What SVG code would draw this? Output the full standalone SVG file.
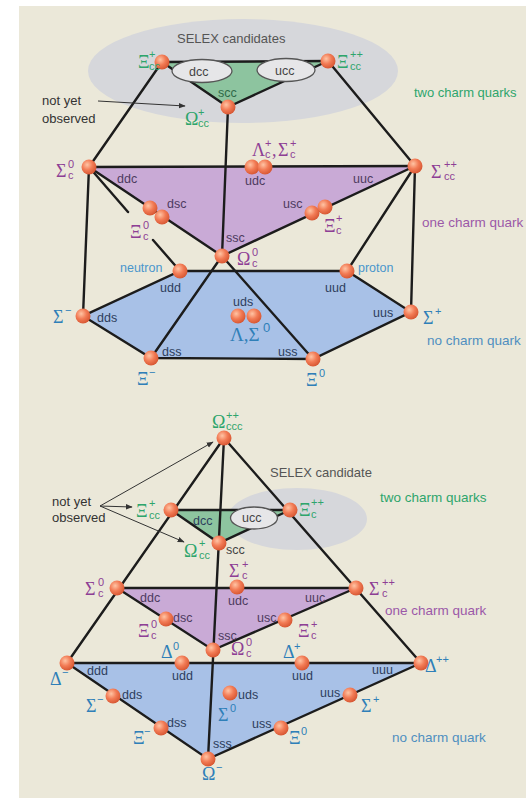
<svg xmlns="http://www.w3.org/2000/svg" width="526" height="799" viewBox="0 0 526 799">
<defs>
<radialGradient id="ball" cx="0.38" cy="0.35" r="0.7">
<stop offset="0" stop-color="#ffc4a4"/>
<stop offset="0.5" stop-color="#f27b55"/>
<stop offset="1" stop-color="#d4532f"/>
</radialGradient>
<marker id="ah" viewBox="0 0 10 10" refX="9" refY="5" markerWidth="7" markerHeight="7" orient="auto" markerUnits="userSpaceOnUse">
<path d="M0,1 L10,5 L0,9 z" fill="#333"/>
</marker>
<style>
.ln{stroke:#1c1c1c;stroke-width:2.4;fill:none;stroke-linecap:round}
.ar{stroke:#333;stroke-width:1;fill:none;marker-end:url(#ah)}
.nd{fill:url(#ball)}
.gk{font-family:"Liberation Serif","DejaVu Serif",serif;font-size:18px}
.ss{font-family:"Liberation Sans",Arial,sans-serif;font-size:11px}
.q{font-family:"Liberation Sans",Arial,sans-serif;font-size:12.5px}
.cap{font-family:"Liberation Sans",Arial,sans-serif;font-size:13.5px}
.g{fill:#2ea56c}
.p{fill:#8e3f95}
.b{fill:#2f7fb8}
.qg{fill:#2f6a48}
.qk{fill:#444}
.qp{fill:#4d3b60}
.qb{fill:#2d3e5c}
.lb{fill:#4a96cc}
.el{fill:#e6e6e8;stroke:#555;stroke-width:1.3}
</style>
</defs>
<rect x="19" y="6" width="507" height="792" fill="#ebe8d9"/>

<!-- TOP DIAGRAM background shapes -->
<g id="top-shapes">
<ellipse cx="243" cy="71" rx="155" ry="52" fill="#d6d7db"/>
<polygon points="162,62 328,61 228,107" fill="#8dc49f"/>
<polygon points="89,167 415,166 222,256" fill="#c9aad6"/>
<polygon points="180,271 347,271 411,312 313,359 151,358 83,316" fill="#a8c1e7"/>
</g>

<g id="connectors">
<line class="ln" x1="162" y1="62" x2="328" y2="61"/>
<line class="ln" x1="162" y1="62" x2="228" y2="107"/>
<line class="ln" x1="328" y1="61" x2="228" y2="107"/>
<line class="ln" x1="162" y1="62" x2="89" y2="167"/>
<line class="ln" x1="328" y1="61" x2="415" y2="166"/>
<line class="ln" x1="228" y1="107" x2="222" y2="256"/>
<line class="ln" x1="89" y1="167" x2="415" y2="166"/>
<line class="ln" x1="89" y1="167" x2="222" y2="256"/>
<line class="ln" x1="415" y1="166" x2="222" y2="256"/>
<line class="ln" x1="89" y1="167" x2="128" y2="212"/>
<line class="ln" x1="153" y1="240" x2="180" y2="271"/>
<line class="ln" x1="415" y1="166" x2="347" y2="271"/>
<line class="ln" x1="89" y1="167" x2="83" y2="316"/>
<line class="ln" x1="415" y1="166" x2="411" y2="312"/>
<polygon class="ln" points="180,271 347,271 411,312 313,359 151,358 83,316"/>
<line class="ln" x1="222" y1="256" x2="151" y2="358"/>
<line class="ln" x1="222" y1="256" x2="313" y2="359"/>
<line class="ar" x1="98" y1="101" x2="185" y2="106"/>
</g>

<g id="top-ellipses">
<ellipse class="el" cx="202" cy="71" rx="30" ry="11.5"/>
<ellipse class="el" cx="286" cy="70" rx="29" ry="11.5"/>
</g>

<g id="top-texts">
<text class="cap" x="177" y="43" fill="#555" style="font-size:13px">SELEX candidates</text>
<text class="cap g" x="414" y="97" style="font-size:13px">two charm quarks</text>
<text class="cap" x="422" y="227" fill="#9b59a8">one charm quark</text>
<text class="cap" x="427" y="345" fill="#4f8fc0">no charm quark</text>
<text class="cap" x="42" y="105" fill="#333" style="font-size:13px">not yet</text>
<text class="cap" x="42" y="123" fill="#333" style="font-size:13px">observed</text>
</g>

<g id="Xicc_plus_top"><circle class="nd" cx="162" cy="62" r="7.5"/><text class="gk g" x="138" y="68">Ξ</text><text class="ss g" x="149" y="58">+</text><text class="ss g" x="149" y="70">cc</text><text class="q qk" x="189" y="76">dcc</text></g>
<g id="Xicc_pp_top"><circle class="nd" cx="328" cy="61" r="7.5"/><text class="gk g" x="337" y="68">Ξ</text><text class="ss g" x="350" y="58">++</text><text class="ss g" x="350" y="70">cc</text><text class="q qk" x="275" y="75">ucc</text></g>
<g id="Omegacc_top"><circle class="nd" cx="228" cy="107" r="7.5"/><text class="gk g" x="185" y="125">Ω</text><text class="ss g" x="198" y="116">+</text><text class="ss g" x="198" y="127">cc</text><text class="q qg" x="218" y="97">scc</text></g>
<g id="Sigmac0_top"><circle class="nd" cx="89" cy="167" r="7.5"/><text class="gk p" x="56" y="177">Σ</text><text class="ss p" x="68" y="168">0</text><text class="ss p" x="68" y="179">c</text><text class="q qp" x="117" y="183">ddc</text></g>
<g id="LambdaSigmac_top"><circle class="nd" cx="252" cy="167" r="7.5"/><circle class="nd" cx="265" cy="167" r="7.5"/><text class="gk p" x="252" y="156">Λ</text><text class="ss p" x="265" y="147">+</text><text class="ss p" x="265" y="158">c</text><text class="gk p" x="272" y="156">,</text><text class="gk p" x="278" y="156">Σ</text><text class="ss p" x="290" y="147">+</text><text class="ss p" x="290" y="158">c</text><text class="q qp" x="245" y="185">udc</text></g>
<g id="Sigmacc_top"><circle class="nd" cx="415" cy="166" r="7.5"/><text class="gk p" x="431" y="178">Σ</text><text class="ss p" x="444" y="168">++</text><text class="ss p" x="444" y="180">cc</text><text class="q qp" x="353" y="183">uuc</text></g>
<g id="Xic0_top"><circle class="nd" cx="150" cy="208" r="7.5"/><circle class="nd" cx="162" cy="217" r="7.5"/><text class="gk p" x="130" y="238">Ξ</text><text class="ss p" x="143" y="229">0</text><text class="ss p" x="143" y="240">c</text><text class="q qp" x="167" y="208">dsc</text></g>
<g id="Xicp_top"><circle class="nd" cx="312" cy="213" r="7.5"/><circle class="nd" cx="325" cy="207" r="7.5"/><text class="gk p" x="324" y="232">Ξ</text><text class="ss p" x="336" y="222">+</text><text class="ss p" x="336" y="234">c</text><text class="q qp" x="283" y="208">usc</text></g>
<g id="Omegac0_top"><circle class="nd" cx="222" cy="256" r="7.5"/><text class="gk p" x="237" y="265">Ω</text><text class="ss p" x="252" y="256">0</text><text class="ss p" x="252" y="267">c</text><text class="q qp" x="226" y="242">ssc</text></g>
<g id="neutron"><circle class="nd" cx="180" cy="271" r="7.5"/><text class="q lb" x="120" y="272">neutron</text><text class="q qb" x="160" y="292">udd</text></g>
<g id="proton"><circle class="nd" cx="347" cy="271" r="7.5"/><text class="q lb" x="358" y="272">proton</text><text class="q qb" x="325" y="292">uud</text></g>
<g id="Sigmam_top"><circle class="nd" cx="83" cy="316" r="7.5"/><text class="gk b" x="53" y="323">Σ</text><text class="ss b" x="65" y="314">−</text><text class="q qb" x="97" y="322">dds</text></g>
<g id="Sigmap_top"><circle class="nd" cx="411" cy="312" r="7.5"/><text class="gk b" x="423" y="324">Σ</text><text class="ss b" x="435" y="315">+</text><text class="q qb" x="373" y="317">uus</text></g>
<g id="LambdaSigma0_top"><circle class="nd" cx="238" cy="316" r="7.5"/><circle class="nd" cx="254" cy="316" r="7.5"/><text class="gk b" x="230" y="341" style="font-size:19px">Λ,Σ</text><text class="ss b" x="263" y="332" style="font-size:13px">0</text><text class="q qb" x="233" y="306">uds</text></g>
<g id="Xim_top"><circle class="nd" cx="151" cy="358" r="7.5"/><text class="gk b" x="137" y="385">Ξ</text><text class="ss b" x="149" y="376">−</text><text class="q qb" x="162" y="356">dss</text></g>
<g id="Xi0_top"><circle class="nd" cx="313" cy="359" r="7.5"/><text class="gk b" x="306" y="386">Ξ</text><text class="ss b" x="319" y="377">0</text><text class="q qb" x="278" y="356">uss</text></g>

<g id="bottom-shapes">
<ellipse cx="297" cy="519" rx="70" ry="31" fill="#d6d7db"/>
<polygon points="171,510 290,510 219,543" fill="#8dc49f"/>
<polygon points="117,588 356,588 213,650" fill="#c9aad6"/>
<polygon points="67,663 421,663 208,759" fill="#a8c1e7"/>
</g>

<g id="connectors-bottom">
<line class="ln" x1="224" y1="438" x2="67" y2="663"/>
<line class="ln" x1="224" y1="438" x2="421" y2="663"/>
<line class="ln" x1="224" y1="438" x2="208" y2="759"/>
<polygon class="ln" points="171,510 290,510 219,543"/>
<polygon class="ln" points="117,588 356,588 213,650"/>
<polygon class="ln" points="67,663 421,663 208,759"/>
<line class="ar" x1="100" y1="506" x2="213" y2="442"/>
<line class="ar" x1="100" y1="506" x2="132" y2="507"/>
<line class="ar" x1="100" y1="506" x2="184" y2="542"/>
</g>

<g id="bottom-ellipse">
<ellipse class="el" cx="254" cy="518" rx="23.5" ry="11"/>
</g>

<g id="bottom-texts">
<text class="cap" x="270" y="477" fill="#555" style="font-size:13px">SELEX candidate</text>
<text class="cap g" x="380" y="502">two charm quarks</text>
<text class="cap" x="385" y="615" fill="#9b59a8">one charm quark</text>
<text class="cap" x="392" y="742" fill="#4f8fc0">no charm quark</text>
<text class="cap" x="52" y="506" fill="#333" style="font-size:13px">not yet</text>
<text class="cap" x="52" y="522" fill="#333" style="font-size:13px">observed</text>
</g>

<g id="Omegaccc"><circle class="nd" cx="224" cy="438" r="7.5"/><text class="gk g" x="212" y="428">Ω</text><text class="ss g" x="226" y="419">++</text><text class="ss g" x="226" y="430">ccc</text></g>
<g id="Xicc_plus_bot"><circle class="nd" cx="171" cy="510" r="7.5"/><text class="gk g" x="136" y="517">Ξ</text><text class="ss g" x="149" y="507">+</text><text class="ss g" x="149" y="519">cc</text><text class="q qb" x="193" y="525">dcc</text></g>
<g id="Xic_pp_bot"><circle class="nd" cx="290" cy="510" r="7.5"/><text class="gk g" x="299" y="516">Ξ</text><text class="ss g" x="311" y="506">++</text><text class="ss g" x="311" y="518">c</text><text class="q qk" x="242" y="522">ucc</text></g>
<g id="Omegacc_bot"><circle class="nd" cx="219" cy="543" r="7.5"/><text class="gk g" x="184" y="557">Ω</text><text class="ss g" x="199" y="547">+</text><text class="ss g" x="199" y="559">cc</text><text class="q qk" x="226" y="554">scc</text></g>
<g id="Sigmac_plus_bot"><circle class="nd" cx="237" cy="587" r="7.5"/><text class="gk p" x="229" y="577">Σ</text><text class="ss p" x="242" y="568">+</text><text class="ss p" x="242" y="579">c</text><text class="q qp" x="228" y="605">udc</text></g>
<g id="Sigmac0_bot"><circle class="nd" cx="117" cy="588" r="7.5"/><text class="gk p" x="85" y="595">Σ</text><text class="ss p" x="98" y="586">0</text><text class="ss p" x="98" y="597">c</text><text class="q qp" x="140" y="602">ddc</text></g>
<g id="Sigmac_pp_bot"><circle class="nd" cx="356" cy="588" r="7.5"/><text class="gk p" x="369" y="595">Σ</text><text class="ss p" x="382" y="586">++</text><text class="ss p" x="382" y="597">c</text><text class="q qp" x="305" y="602">uuc</text></g>
<g id="Xic0_bot"><circle class="nd" cx="166" cy="619" r="7.5"/><text class="gk p" x="138" y="637">Ξ</text><text class="ss p" x="151" y="628">0</text><text class="ss p" x="151" y="639">c</text><text class="q qp" x="173" y="622">dsc</text></g>
<g id="Xicp_bot"><circle class="nd" cx="285" cy="620" r="7.5"/><text class="gk p" x="298" y="637">Ξ</text><text class="ss p" x="311" y="628">+</text><text class="ss p" x="311" y="639">c</text><text class="q qp" x="257" y="622">usc</text></g>
<g id="Omegac0_bot"><circle class="nd" cx="213" cy="650" r="7.5"/><text class="gk p" x="231" y="655">Ω</text><text class="ss p" x="246" y="646">0</text><text class="ss p" x="246" y="657">c</text><text class="q qp" x="218" y="640">ssc</text></g>
<g id="Deltam"><circle class="nd" cx="67" cy="663" r="7.5"/><text class="gk b" x="50" y="685">Δ</text><text class="ss b" x="62" y="676">−</text><text class="q qb" x="87" y="675">ddd</text></g>
<g id="Delta0"><circle class="nd" cx="182" cy="663" r="7.5"/><text class="gk b" x="161" y="658">Δ</text><text class="ss b" x="173" y="650">0</text><text class="q qb" x="172" y="680">udd</text></g>
<g id="Deltap"><circle class="nd" cx="302" cy="663" r="7.5"/><text class="gk b" x="283" y="658">Δ</text><text class="ss b" x="294" y="650">+</text><text class="q qb" x="292" y="680">uud</text></g>
<g id="Deltapp"><circle class="nd" cx="421" cy="663" r="7.5"/><text class="gk b" x="425" y="672">Δ</text><text class="ss b" x="436" y="663">++</text><text class="q qb" x="372" y="674">uuu</text></g>
<g id="Sigmam_bot"><circle class="nd" cx="113" cy="696" r="7.5"/><text class="gk b" x="86" y="712">Σ</text><text class="ss b" x="97" y="703">−</text><text class="q qb" x="122" y="699">dds</text></g>
<g id="Sigma0_bot"><circle class="nd" cx="230" cy="693" r="7.5"/><text class="gk b" x="218" y="721">Σ</text><text class="ss b" x="230" y="712">0</text><text class="q qb" x="238" y="699">uds</text></g>
<g id="Sigmap_bot"><circle class="nd" cx="350" cy="695" r="7.5"/><text class="gk b" x="361" y="712">Σ</text><text class="ss b" x="373" y="703">+</text><text class="q qb" x="320" y="697">uus</text></g>
<g id="Xim_bot"><circle class="nd" cx="161" cy="728" r="7.5"/><text class="gk b" x="133" y="744">Ξ</text><text class="ss b" x="144" y="735">−</text><text class="q qb" x="167" y="727">dss</text></g>
<g id="Xi0_bot"><circle class="nd" cx="281" cy="728" r="7.5"/><text class="gk b" x="289" y="744">Ξ</text><text class="ss b" x="301" y="735">0</text><text class="q qb" x="252" y="728">uss</text></g>
<g id="Omegam"><circle class="nd" cx="208" cy="759" r="7.5"/><text class="gk b" x="202" y="780">Ω</text><text class="ss b" x="216" y="771">−</text><text class="q qb" x="213" y="748">sss</text></g>
</svg>
